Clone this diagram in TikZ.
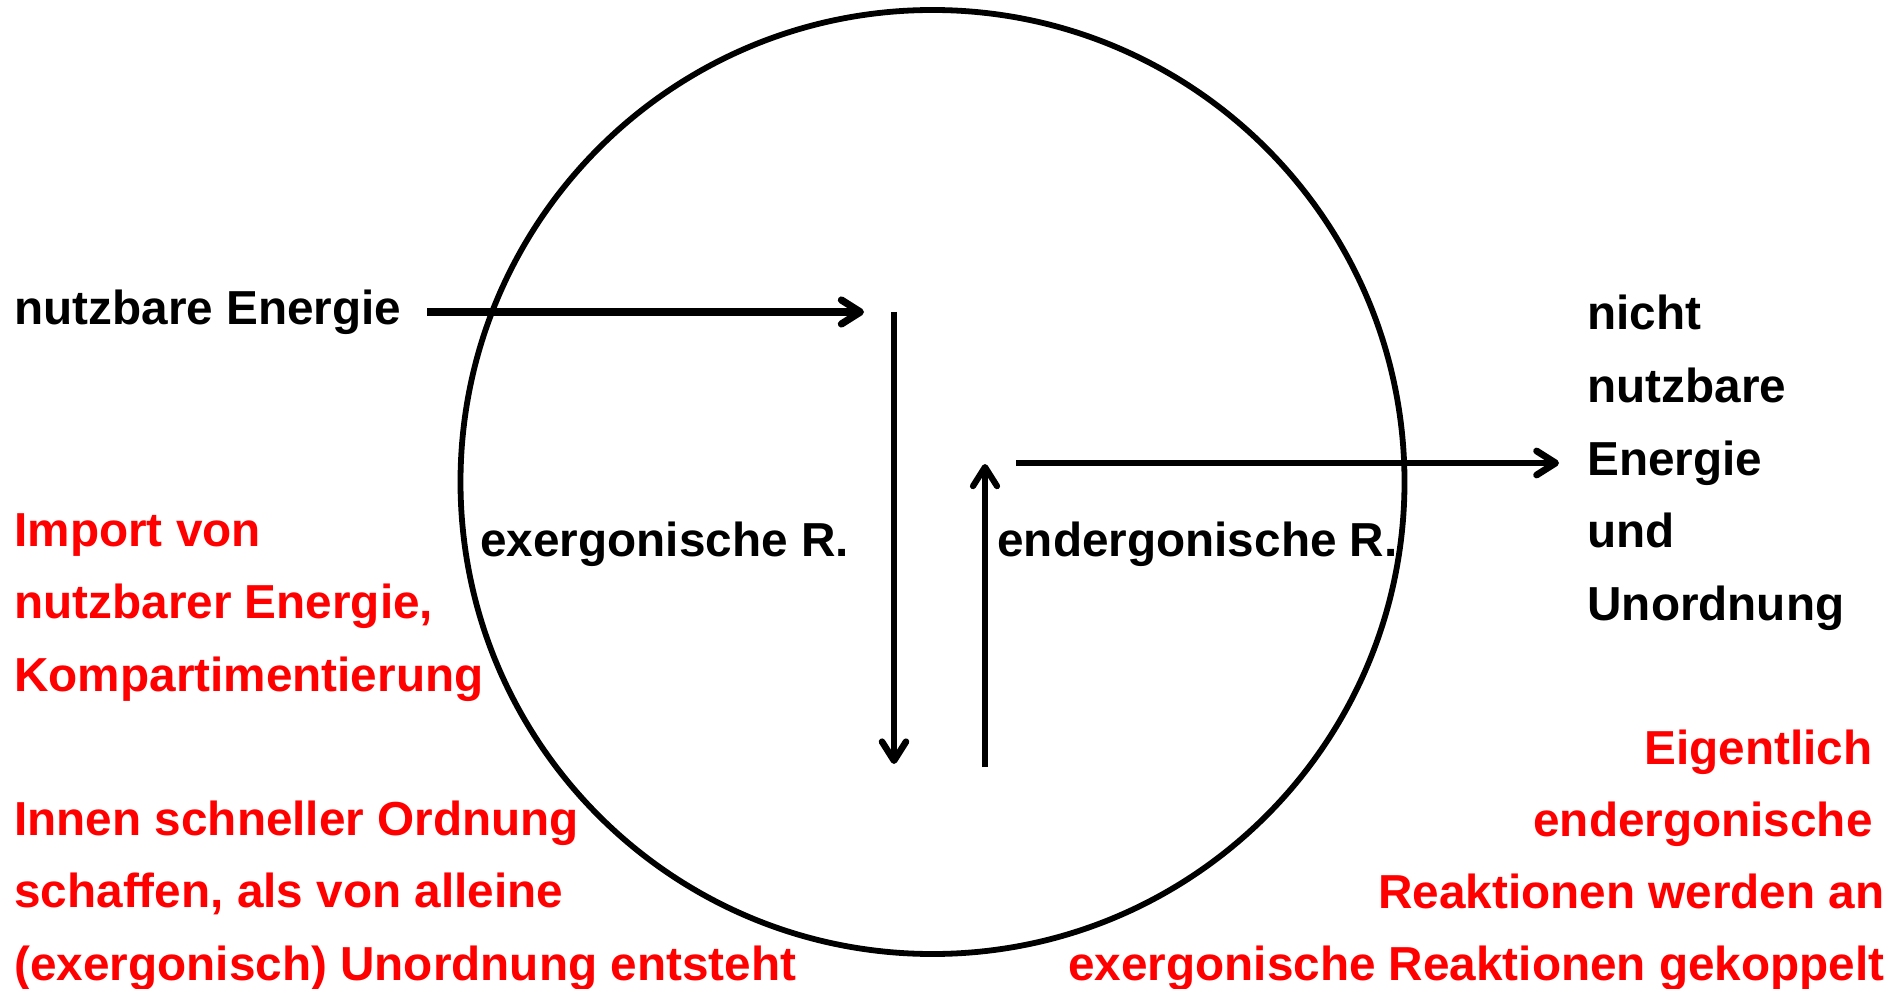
\documentclass[tikz,border=0pt]{standalone}
\usepackage{fontspec}
\setmainfont[Ligatures=NoCommon]{Liberation Sans}
\usetikzlibrary{arrows.meta}
\begin{document}
\begin{tikzpicture}[x=0.5pt,y=-0.5pt,
  lbl/.style={font=\fontsize{23.85}{28}\selectfont\bfseries, inner sep=0pt, anchor=base west},
  redl/.style={lbl, text=red},
  redr/.style={lbl, text=red, anchor=base east},
  arr/.style={line width=#1, -{Straight Barb[length=9.5pt,width=12pt,line width=#1,round]}},
  arr/.default=3.3pt]
\useasboundingbox (0,0) rectangle (1895,989);
\node[circle, draw, line width=2.9pt, minimum size=472pt, inner sep=0pt] (cell) at (932.5,482) {};

% black labels
\node[lbl] (ne) at (14,325) {nutzbare Energie};
\node[lbl] (exr) at (480,556) {exergonische R.};
\node[lbl] (enr) at (997,556) {endergonische R.};
\node[lbl] (nn1) at (1587,330) {nicht};
\node[lbl] (nn2) at (1587,402.5) {nutzbare};
\node[lbl] (nn3) at (1587,475) {Energie};
\node[lbl] (nn4) at (1587,547.5) {und};
\node[lbl] (nn5) at (1587,620) {Unordnung};

% red left
\node[redl] (il1) at (14,546) {Import von};
\node[redl] (il2) at (14,618.5) {nutzbarer Energie,};
\node[redl] (il3) at (14,691) {Kompartimentierung};
\node[redl] (is1) at (14,835) {Innen schneller Ordnung};
\node[redl] (is2) at (14,907.5) {schaffen, als von alleine};
\node[redl] (is3) at (14,980) {(exergonisch) Unordnung entsteht};

% red right
\node[redr] (er1) at (1873,764) {Eigentlich};
\node[redr] (er2) at (1873,836) {endergonische};
\node[redr] (er3) at (1885,908) {Reaktionen werden an};
\node[redr] (er4) at (1885,980) {exergonische Reaktionen gekoppelt};

% arrows
\coordinate (a1s) at (427,312);
\coordinate (a1e) at (864,312);
\coordinate (d1s) at (894,312);
\coordinate (d1e) at (894,764);
\coordinate (u1s) at (985,767);
\coordinate (u1e) at (985,464);
\coordinate (r1s) at (1016,463);
\coordinate (r1e) at (1559,463);
\draw[arr=3.6pt] (a1s) -- (a1e);
\draw[arr=3.3pt] (d1s) -- (d1e);
\draw[arr=3.1pt] (u1s) -- (u1e);
\draw[arr=3.4pt] (r1s) -- (r1e);
\end{tikzpicture}
\end{document}
